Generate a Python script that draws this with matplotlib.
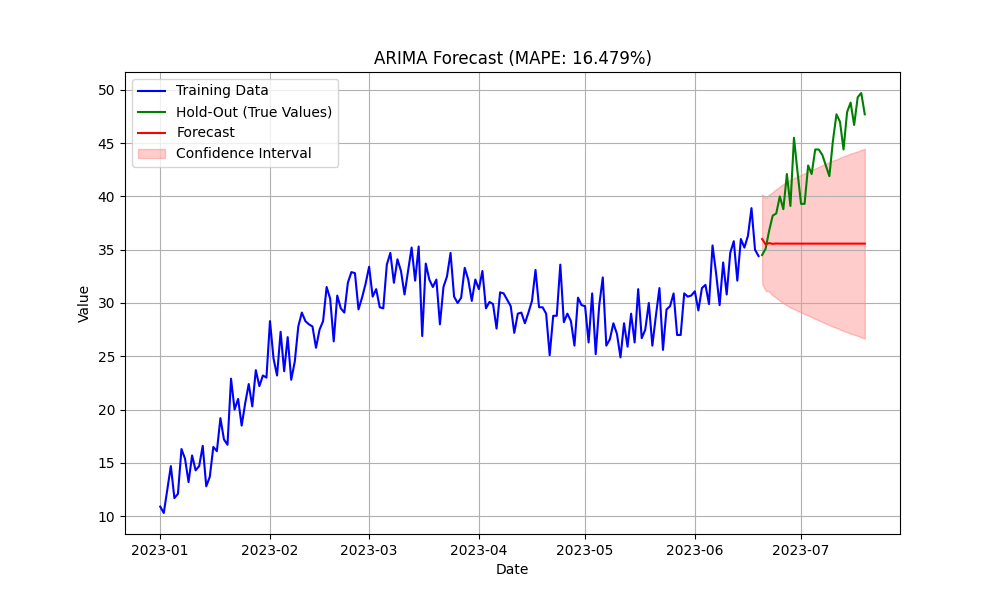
import matplotlib
matplotlib.use("Agg")
import matplotlib.pyplot as plt
import pandas as pd

train_start = "2023-01-01"
holdout_start = "2023-06-20"

train_values = [
    10.9, 10.3, 12.5, 14.7, 11.7, 12.1, 16.3, 15.4, 13.2, 15.7,
    14.3, 14.7, 16.6, 12.8, 13.7, 16.5, 16.1, 19.2, 17.2, 16.7,
    22.9, 20.0, 21.0, 18.5, 20.6, 22.4, 20.3, 23.7, 22.2, 23.2,
    23.0, 28.3, 24.8, 23.2, 27.3, 23.6, 26.8, 22.8, 24.5, 27.8,
    29.1, 28.3, 28.0, 27.8, 25.8, 27.5, 28.3, 31.5, 30.4, 26.4,
    30.7, 29.5, 29.1, 31.9, 32.9, 32.8, 29.4, 30.5, 31.8, 33.4,
    30.6, 31.3, 29.6, 29.5, 33.6, 34.7, 31.9, 34.1, 33.0, 30.8,
    33.0, 35.2, 32.1, 35.3, 26.9, 33.7, 32.2, 31.5, 32.2, 28.0,
    31.5, 32.5, 34.7, 30.6, 30.0, 30.5, 33.3, 32.2, 30.2, 32.2,
    31.3, 33.0, 29.5, 30.1, 29.9, 27.6, 31.0, 30.9, 30.3, 29.7,
    27.2, 29.0, 29.1, 28.1, 29.1, 30.2, 33.1, 29.6, 29.6, 29.0,
    25.1, 28.8, 28.8, 33.6, 28.2, 29.0, 28.3, 26.0, 30.5, 29.8,
    29.7, 26.3, 30.9, 25.2, 29.8, 32.4, 26.0, 26.6, 28.1, 27.1,
    24.9, 28.1, 25.9, 29.0, 26.3, 31.3, 26.7, 27.5, 30.0, 26.0,
    28.8, 31.4, 25.6, 29.4, 29.7, 30.9, 27.0, 27.0, 30.9, 30.6,
    30.7, 31.1, 29.3, 31.4, 31.7, 29.9, 35.4, 32.8, 29.8, 33.8,
    30.8, 34.7, 35.8, 32.1, 36.0, 35.2, 36.3, 38.9, 35.0, 34.4,
]

holdout_values = [
    34.5, 35.1, 36.8, 38.2, 38.4, 40.0, 38.8, 42.1, 39.1, 45.5,
    42.3, 39.3, 39.3, 42.9, 42.1, 44.4, 44.4, 43.9, 42.9, 41.9,
    45.2, 47.7, 47.0, 44.4, 47.9, 48.8, 46.7, 49.3, 49.7, 47.7,
]

forecast_values = [
    36.00, 35.50, 35.62, 35.55, 35.58, 35.57, 35.57, 35.57, 35.57, 35.57,
    35.57, 35.57, 35.57, 35.57, 35.57, 35.57, 35.57, 35.57, 35.57, 35.57,
    35.57, 35.57, 35.57, 35.57, 35.57, 35.57, 35.57, 35.57, 35.57, 35.57,
]

ci_upper = [
    40.20, 39.85, 40.17, 40.40, 40.68, 40.92, 41.17, 41.37, 41.57, 41.72,
    41.87, 42.02, 42.17, 42.32, 42.47, 42.62, 42.77, 42.92, 43.07, 43.22,
    43.37, 43.47, 43.62, 43.77, 43.87, 44.02, 44.12, 44.22, 44.37, 44.47,
]

ci_lower = [
    31.80, 31.15, 31.07, 30.70, 30.48, 30.22, 29.97, 29.77, 29.57, 29.42,
    29.27, 29.12, 28.97, 28.82, 28.67, 28.52, 28.37, 28.22, 28.07, 27.92,
    27.77, 27.67, 27.52, 27.37, 27.27, 27.12, 27.02, 26.92, 26.77, 26.67,
]

train_dates = pd.date_range(train_start, periods=len(train_values), freq="D")
holdout_dates = pd.date_range(holdout_start, periods=len(holdout_values), freq="D")

fig, ax = plt.subplots(figsize=(10, 6), dpi=100)
ax.plot(train_dates, train_values, color="blue", label="Training Data")
ax.plot(holdout_dates, holdout_values, color="green", label="Hold-Out (True Values)")
ax.plot(holdout_dates, forecast_values, color="red", label="Forecast")
ax.fill_between(holdout_dates, ci_lower, ci_upper, color="red", alpha=0.2,
                label="Confidence Interval")
ax.set_title("ARIMA Forecast (MAPE: 16.479%)")
ax.set_xlabel("Date")
ax.set_ylabel("Value")
ax.legend(loc="upper left")
ax.grid(True)
fig.savefig("out.png", dpi=100)
